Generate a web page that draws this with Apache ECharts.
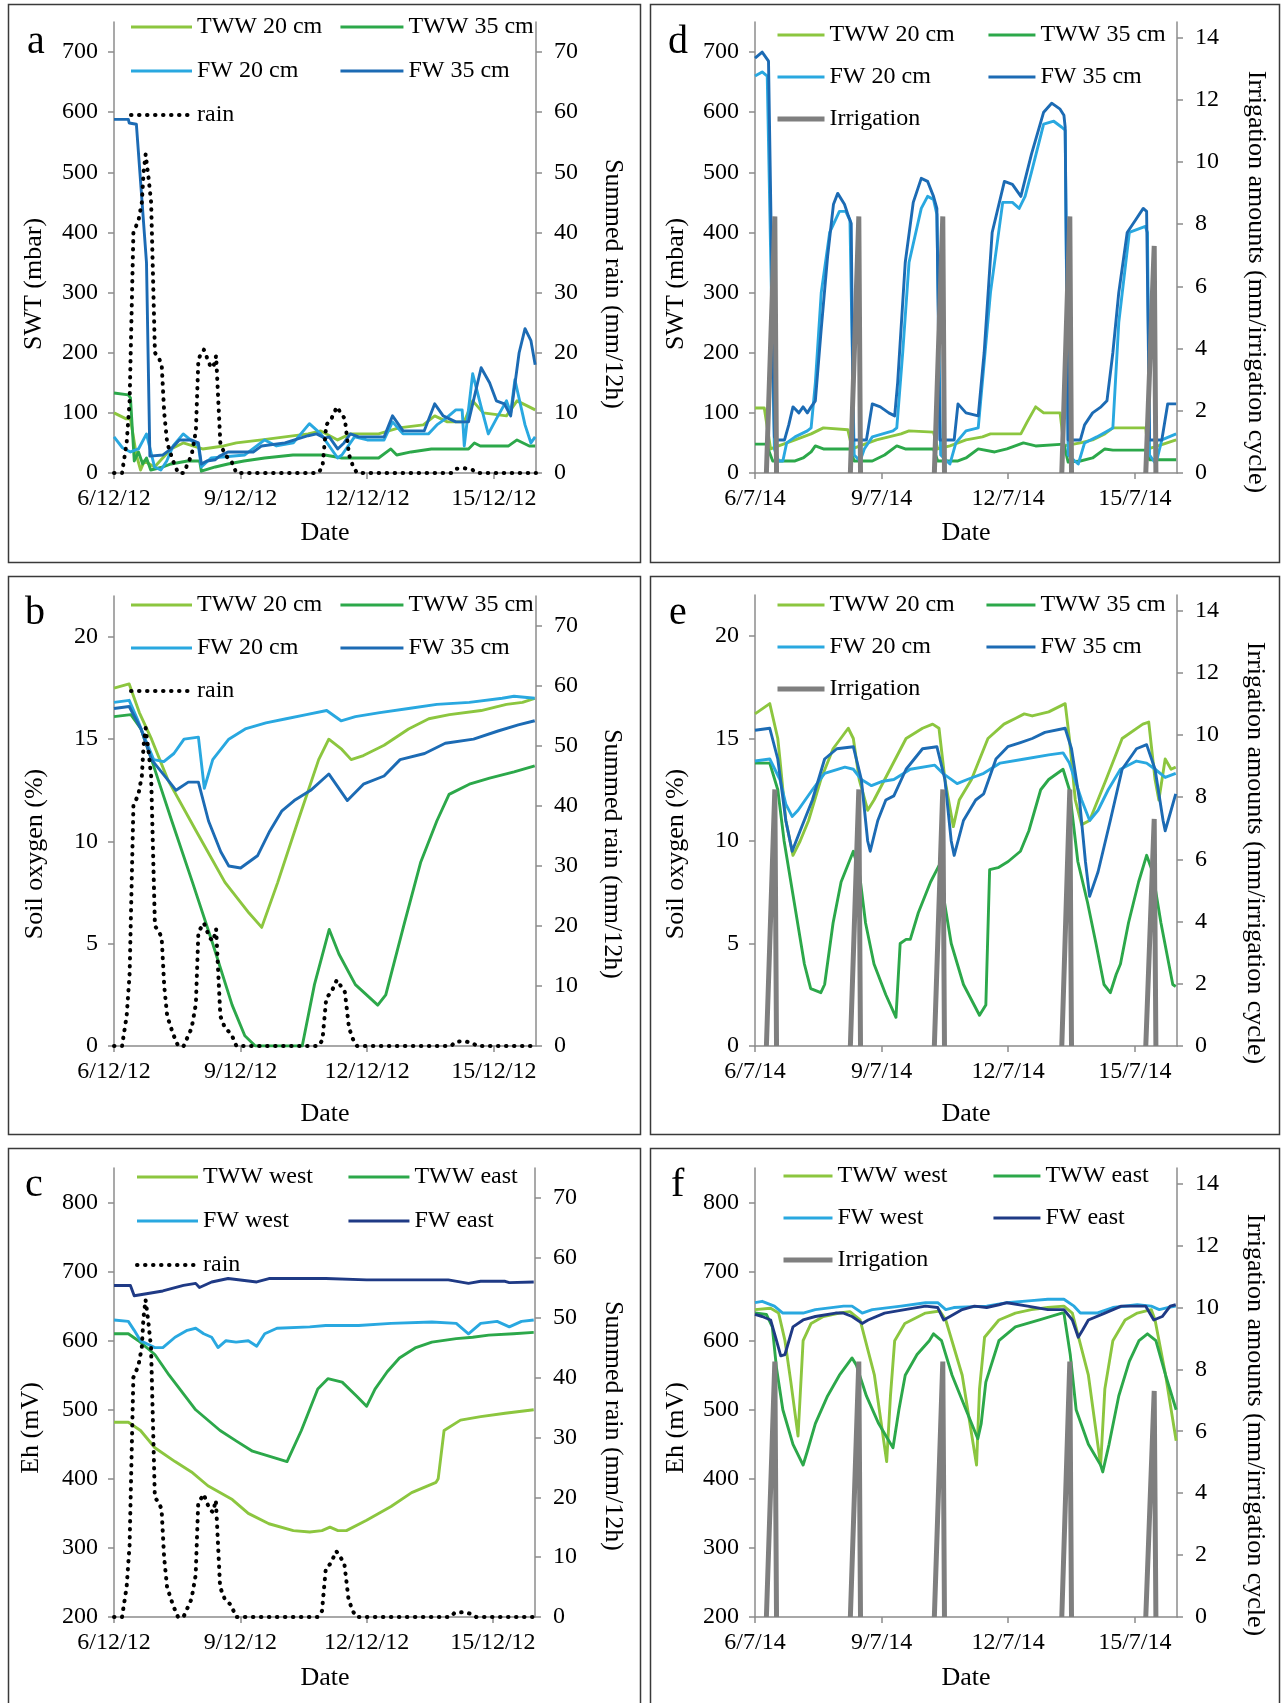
<!DOCTYPE html>
<html><head><meta charset="utf-8">
<script src="https://cdn.jsdelivr.net/npm/echarts@6/dist/echarts.min.js"></script>
<style>html,body{margin:0;padding:0;background:#fff}#c{width:1281px;height:1703px}</style>
</head><body><div id="c"></div>
<script>
// ---------- DATA (x = days since start; 0 = 6/12/12 or 6/7/14) ----------
const xTicks = [0, 3, 6, 9];
const decLabels = ['6/12/12', '9/12/12', '12/12/12', '15/12/12'];
const julLabels = ['6/7/14', '9/7/14', '12/7/14', '15/7/14'];

const rainDec = [[0,0],[0.19,0],[0.3,5],[0.37,12],[0.46,40],[0.58,42],[0.66,45],[0.7,50],[0.75,53],[0.82,49],[0.88,45],[0.97,20],[1.07,19],[1.13,18],[1.19,10],[1.26,5],[1.4,2],[1.52,0],[1.65,0],[1.84,3],[1.94,7],[2.0,19],[2.13,20.5],[2.27,18],[2.35,17.5],[2.42,19.5],[2.52,5],[2.63,3],[2.78,2],[2.9,0],[4.84,0],[4.94,1],[5.03,8],[5.15,9],[5.28,11],[5.47,9],[5.57,3],[5.67,1],[5.76,0],[7.99,0],[8.09,0.7],[8.3,0.8],[8.5,0.5],[8.6,0],[10,0]];
const irrigJul = [[0.27,0],[0.47,8.25],[0.51,0],[0.51,null],[2.26,0],[2.46,8.25],[2.5,0],[2.5,null],[4.25,0],[4.45,8.25],[4.49,0],[4.49,null],[7.27,0],[7.46,8.25],[7.5,0],[7.5,null],[9.26,0],[9.46,7.3],[9.5,0]];

// a: SWT Dec 2012
const aTWW20 = [[0,100],[0.29,90],[0.39,90],[0.53,30],[0.63,5],[0.72,20],[0.96,10],[1.35,40],[1.64,50],[2.1,40],[2.6,45],[2.9,50],[3.5,55],[4.05,60],[4.6,65],[4.9,70],[5.3,55],[5.6,65],[6.27,65],[6.75,75],[7.33,80],[7.6,95],[7.9,85],[8.3,85],[8.5,120],[8.75,100],[9.3,95],[9.55,120],[9.84,110],[9.98,105]];
const aTWW35 = [[0,133],[0.34,130],[0.39,125],[0.48,20],[0.58,35],[0.68,15],[0.77,25],[0.87,5],[1.16,10],[1.35,15],[1.74,20],[2.03,20],[2.07,3],[2.4,10],[2.7,15],[3.08,20],[3.57,25],[4.24,30],[5.0,30],[5.4,25],[6.27,25],[6.56,40],[6.7,30],[7.04,35],[7.52,40],[8.4,40],[8.54,50],[8.68,45],[9.35,45],[9.55,55],[9.84,45],[9.98,45]];
const aFW20 = [[0,60],[0.2,42],[0.39,35],[0.58,40],[0.77,65],[0.96,10],[1.11,5],[1.25,20],[1.4,45],[1.64,65],[1.9,50],[2.0,45],[2.07,10],[2.3,25],[3.1,30],[3.57,55],[3.85,45],[4.25,50],[4.63,82],[4.9,65],[5.3,25],[5.4,30],[5.7,60],[6.0,55],[6.4,55],[6.6,85],[6.85,65],[7.45,65],[7.65,80],[7.85,90],[8.1,105],[8.25,105],[8.3,45],[8.5,165],[8.7,110],[8.87,65],[9.06,90],[9.3,120],[9.4,100],[9.5,155],[9.74,80],[9.88,50],[9.98,60]];
const aFW35 = [[0,588],[0.34,588],[0.36,582],[0.53,580],[0.77,350],[0.85,28],[1.16,30],[1.35,40],[1.55,55],[1.83,55],[2.0,50],[2.07,15],[2.2,20],[2.4,22],[2.5,28],[2.7,35],[3.3,35],[3.5,45],[4.05,50],[4.6,62],[4.8,65],[5.0,58],[5.1,60],[5.3,40],[5.45,50],[5.6,65],[5.8,60],[6.4,60],[6.6,95],[6.85,70],[7.35,70],[7.6,115],[7.8,95],[8.1,85],[8.4,85],[8.7,175],[8.9,150],[9.06,120],[9.25,115],[9.4,95],[9.6,200],[9.74,240],[9.88,220],[9.98,180]];

// b: soil oxygen Dec 2012
const bTWW20 = [[0,17.5],[0.36,17.7],[0.6,16.3],[0.89,15],[1.28,13],[1.95,10.5],[2.63,8],[3.2,6.5],[3.5,5.8],[3.88,8],[4.36,11],[4.85,14],[5.09,15],[5.4,14.5],[5.62,14],[5.91,14.2],[6.4,14.7],[6.98,15.5],[7.46,16],[7.95,16.2],[8.7,16.4],[9.3,16.7],[9.68,16.8],[9.97,17]];
const bTWW35 = [[0,16.1],[0.4,16.2],[0.64,15.5],[0.89,14],[1.37,11],[1.86,8],[2.34,5],[2.8,2],[3.1,0.5],[3.35,0],[4.46,0],[4.75,3],[5.1,5.7],[5.33,4.5],[5.72,3],[6.25,2],[6.44,2.5],[6.88,6],[7.27,9],[7.65,11],[7.94,12.3],[8.42,12.8],[8.9,13.1],[9.48,13.4],[9.97,13.7]];
const bFW20 = [[0,16.8],[0.36,16.9],[0.55,16],[0.74,15],[0.94,14],[1.18,13.9],[1.42,14.3],[1.66,15],[2.0,15.1],[2.14,12.6],[2.34,14],[2.72,15],[3.11,15.5],[3.6,15.8],[4.08,16],[4.56,16.2],[5.04,16.4],[5.38,15.9],[5.72,16.1],[6.3,16.3],[6.98,16.5],[7.65,16.7],[8.42,16.8],[9.2,17],[9.48,17.1],[9.97,17]];
const bFW35 = [[0,16.5],[0.36,16.6],[0.64,15.5],[0.89,14],[1.28,13],[1.47,12.5],[1.76,12.9],[2.0,12.9],[2.24,11],[2.53,9.5],[2.72,8.8],[3.0,8.7],[3.4,9.3],[3.69,10.5],[3.98,11.5],[4.27,12],[4.66,12.5],[5.09,13.3],[5.53,12],[5.91,12.8],[6.4,13.2],[6.78,14],[7.36,14.3],[7.85,14.8],[8.52,15],[9.1,15.4],[9.58,15.7],[9.97,15.9]];

// c: Eh Dec 2012
const cTWWwest = [[0,482],[0.34,482],[0.63,470],[0.97,445],[1.45,425],[1.84,410],[2.23,390],[2.81,370],[3.19,350],[3.68,335],[4.26,325],[4.65,323],[4.94,325],[5.13,330],[5.32,325],[5.52,325],[6.0,340],[6.58,360],[7.07,380],[7.65,395],[7.7,400],[7.84,470],[8.23,485],[8.71,490],[9.29,495],[9.97,500]];
const cTWWeast = [[0,610],[0.34,610],[0.58,600],[0.68,595],[0.97,580],[1.31,550],[1.94,500],[2.52,470],[2.9,455],[3.29,440],[4.11,425],[4.45,470],[4.84,530],[5.08,545],[5.42,540],[5.76,520],[6.0,505],[6.2,530],[6.49,555],[6.78,575],[7.17,590],[7.55,598],[8.13,603],[8.52,605],[8.9,608],[9.49,610],[9.97,612]];
const cFWwest = [[0,630],[0.34,628],[0.48,615],[0.63,600],[0.97,590],[1.16,590],[1.45,605],[1.74,615],[1.94,618],[2.13,610],[2.32,605],[2.47,590],[2.66,600],[2.9,598],[3.19,600],[3.39,592],[3.58,610],[3.87,618],[4.65,620],[5.03,622],[5.81,622],[6.58,625],[7.55,627],[8.13,625],[8.42,610],[8.71,625],[9.1,628],[9.39,620],[9.68,628],[9.97,630]];
const cFWeast = [[0,680],[0.39,680],[0.48,665],[0.77,668],[1.16,672],[1.65,680],[1.94,683],[2.03,677],[2.32,685],[2.71,690],[3.39,685],[3.68,690],[5.03,690],[6.0,688],[7.94,688],[8.42,683],[8.71,686],[9.29,686],[9.39,684],[9.97,685]];

// d: SWT Jul 2014
const dTWW20 = [[0,108],[0.22,108],[0.37,40],[0.56,45],[0.95,55],[1.33,65],[1.62,75],[2.2,72],[2.3,40],[2.49,45],[2.88,55],[3.46,65],[3.65,70],[4.23,68],[4.33,40],[4.62,45],[5.0,55],[5.39,60],[5.58,65],[6.3,65],[6.45,85],[6.65,110],[6.84,100],[7.23,100],[7.32,45],[7.71,50],[8.0,55],[8.29,65],[8.48,75],[9.26,75],[9.31,40],[9.55,45],[9.98,55]];
const dTWW35 = [[0,48],[0.27,48],[0.42,20],[0.95,20],[1.14,25],[1.33,35],[1.43,45],[1.62,40],[2.25,40],[2.35,20],[2.78,20],[3.07,30],[3.36,45],[3.56,40],[4.23,40],[4.33,20],[4.81,20],[5.0,25],[5.29,40],[5.68,35],[5.97,40],[6.36,50],[6.65,45],[7.32,48],[7.42,18],[7.71,20],[8.0,25],[8.29,40],[8.48,38],[9.26,38],[9.35,22],[9.98,22]];
const dFW20 = [[0,660],[0.17,667],[0.29,660],[0.46,40],[0.56,20],[0.66,20],[0.75,50],[0.95,60],[1.24,70],[1.33,75],[1.43,150],[1.57,300],[1.77,400],[2.0,435],[2.15,435],[2.25,420],[2.35,30],[2.49,20],[2.59,40],[2.78,60],[3.27,70],[3.36,75],[3.5,200],[3.65,350],[3.94,440],[4.09,460],[4.23,455],[4.31,430],[4.4,30],[4.62,15],[4.76,50],[5.0,70],[5.29,75],[5.58,300],[5.87,450],[6.1,450],[6.26,440],[6.4,460],[6.55,500],[6.84,580],[7.08,585],[7.27,575],[7.35,570],[7.42,30],[7.66,15],[7.81,50],[8.1,60],[8.48,75],[8.62,250],[8.87,400],[9.25,410],[9.3,400],[9.35,30],[9.5,15],[9.64,55],[9.98,65]];
const dFW35 = [[0,690],[0.17,700],[0.27,690],[0.32,685],[0.46,60],[0.51,55],[0.7,55],[0.8,80],[0.9,110],[1.04,100],[1.14,110],[1.24,100],[1.33,110],[1.43,120],[1.57,240],[1.72,360],[1.86,447],[1.96,465],[2.12,447],[2.21,428],[2.28,415],[2.33,55],[2.64,55],[2.78,115],[2.97,110],[3.17,100],[3.31,95],[3.38,150],[3.56,350],[3.75,450],[3.94,490],[4.09,485],[4.23,460],[4.31,440],[4.38,55],[4.72,55],[4.81,115],[5.0,100],[5.29,95],[5.43,200],[5.62,400],[5.91,485],[6.1,480],[6.3,460],[6.55,530],[6.84,600],[7.03,615],[7.23,605],[7.32,595],[7.35,575],[7.42,55],[7.71,55],[7.81,80],[8.0,100],[8.2,110],[8.34,120],[8.48,200],[8.62,300],[8.82,400],[9.01,420],[9.2,440],[9.28,435],[9.35,55],[9.64,55],[9.78,115],[9.98,115]];

// e: soil oxygen Jul 2014
const eTWW20 = [[0,16.2],[0.35,16.7],[0.54,15],[0.59,14],[0.73,11],[0.9,9.3],[1.07,10],[1.27,11],[1.56,13],[1.85,14.5],[2.21,15.5],[2.33,15],[2.47,13],[2.67,11.5],[2.82,12],[3.2,13.5],[3.58,15],[3.97,15.5],[4.21,15.7],[4.36,15.5],[4.5,13],[4.7,10.7],[4.84,12],[5.13,13],[5.52,15],[5.9,15.7],[6.19,16],[6.38,16.2],[6.57,16.1],[6.96,16.3],[7.35,16.7],[7.45,15],[7.59,12],[7.74,10.8],[7.93,11],[8.32,13],[8.7,15],[9.19,15.7],[9.33,15.8],[9.48,13],[9.57,12],[9.72,14],[9.86,13.5],[9.97,13.6]];
const eTWW35 = [[0,13.8],[0.35,13.8],[0.54,12.5],[0.69,10],[0.93,7],[1.17,4],[1.32,2.8],[1.56,2.6],[1.65,3],[1.85,6],[2.04,8],[2.33,9.5],[2.47,8.5],[2.62,6],[2.82,4],[3.1,2.5],[3.34,1.4],[3.44,5],[3.58,5.2],[3.68,5.2],[3.87,6.5],[4.16,8],[4.36,8.8],[4.45,7.5],[4.65,5],[4.94,3],[5.32,1.5],[5.47,2],[5.56,8.6],[5.76,8.7],[6.0,9],[6.29,9.5],[6.49,10.5],[6.77,12.5],[6.96,13],[7.3,13.5],[7.45,12.5],[7.65,9],[7.88,7],[8.08,5],[8.27,3],[8.42,2.6],[8.56,3.5],[8.66,4],[8.85,6],[9.09,8],[9.28,9.3],[9.42,8.5],[9.62,6],[9.9,3],[9.97,2.9]];
const eFW20 = [[0,13.9],[0.35,14],[0.59,13],[0.73,11.8],[0.88,11.2],[1.02,11.5],[1.36,12.5],[1.65,13.3],[2.13,13.6],[2.33,13.5],[2.52,13],[2.76,12.7],[3.0,12.9],[3.29,13],[3.68,13.5],[4.26,13.7],[4.45,13.3],[4.79,12.8],[5.03,13],[5.42,13.3],[5.81,13.8],[6.39,14],[6.96,14.2],[7.3,14.3],[7.45,13.8],[7.74,12],[7.93,11],[8.13,11.5],[8.37,12.5],[8.66,13.5],[9.04,13.9],[9.28,13.8],[9.48,13.5],[9.72,13.1],[9.97,13.3]];
const eFW35 = [[0,15.4],[0.35,15.5],[0.54,14],[0.73,11],[0.88,9.5],[1.07,10.5],[1.36,12],[1.65,14],[1.94,14.5],[2.33,14.6],[2.52,13],[2.67,10],[2.73,9.5],[2.91,11],[3.1,12],[3.29,12.2],[3.58,13.5],[3.97,14.5],[4.31,14.6],[4.5,13],[4.65,10],[4.72,9.3],[4.94,11],[5.23,12],[5.42,12.3],[5.71,14],[5.99,14.6],[6.29,14.8],[6.57,15],[6.87,15.3],[7.35,15.5],[7.5,14.5],[7.69,12],[7.83,9],[7.93,7.3],[8.13,8.5],[8.42,11],[8.7,13.5],[9.04,14.5],[9.28,14.7],[9.48,13.5],[9.67,11],[9.72,10.5],[9.86,11.5],[9.97,12.3]];

// f: Eh Jul 2014
const fTWWwest = [[0,645],[0.37,647],[0.56,640],[0.71,600],[0.85,540],[1.02,462],[1.14,600],[1.33,625],[1.62,635],[2.0,640],[2.25,642],[2.49,630],[2.83,550],[3.12,425],[3.21,520],[3.31,600],[3.55,625],[4.04,640],[4.38,643],[4.52,630],[4.91,550],[5.25,420],[5.32,530],[5.44,605],[5.78,630],[6.17,640],[6.55,645],[6.94,648],[7.32,650],[7.52,640],[7.9,550],[8.19,420],[8.29,530],[8.48,600],[8.77,630],[9.06,640],[9.39,645],[9.48,630],[9.73,550],[9.98,455]];
const fTWWeast = [[0,640],[0.27,638],[0.41,620],[0.51,560],[0.66,500],[0.9,450],[1.14,420],[1.24,440],[1.43,480],[1.72,520],[2.0,550],[2.3,575],[2.4,565],[2.64,520],[2.93,480],[3.22,450],[3.27,445],[3.41,500],[3.56,550],[3.84,580],[4.13,600],[4.23,610],[4.42,600],[4.67,550],[5.0,500],[5.28,458],[5.36,480],[5.47,540],[5.78,600],[6.17,620],[6.74,630],[7.27,640],[7.32,640],[7.47,580],[7.61,500],[7.9,450],[8.19,420],[8.24,410],[8.39,450],[8.62,520],[8.87,570],[9.1,600],[9.3,610],[9.5,600],[9.73,550],[9.98,500]];
const fFWwest = [[0,655],[0.17,657],[0.46,650],[0.66,640],[1.14,640],[1.43,645],[2.1,650],[2.3,650],[2.54,640],[2.78,645],[3.46,650],[4.04,655],[4.33,655],[4.52,645],[4.71,648],[5.49,650],[5.97,655],[6.55,658],[6.94,660],[7.32,660],[7.56,650],[7.71,640],[8.1,640],[8.48,648],[9.06,652],[9.39,650],[9.58,645],[9.78,648],[9.97,650]];
const fFWeast = [[0,638],[0.17,635],[0.37,630],[0.51,600],[0.61,578],[0.71,580],[0.9,620],[1.14,630],[1.43,635],[1.91,640],[2.1,640],[2.3,635],[2.54,625],[2.68,630],[3.07,640],[3.55,645],[4.04,650],[4.33,648],[4.47,630],[4.62,635],[4.91,645],[5.2,650],[5.49,648],[5.78,652],[5.97,655],[6.46,650],[6.94,645],[7.32,645],[7.52,630],[7.66,605],[7.76,615],[7.9,630],[8.29,640],[8.68,650],[9.26,650],[9.45,630],[9.65,635],[9.84,650],[9.97,652]];

// ---------- STYLE ----------
const FONT = 'Liberation Serif';
const C = { tww20:'#8cc63f', tww35:'#2ca84a', fw20:'#29a8e0', fw35:'#1c6bb4', fwEast:'#1f3a85', irr:'#7f7f7f', rain:'#000' };
const AX = '#8c8c8c';

const grid = [], xAxis = [], yAxis = [], series = [], legend = [], graphic = [];

function mkX(i, labels) {
  return { gridIndex:i, type:'value', min:0, max:10, interval:3,
    axisLine:{show:true, onZero:false, lineStyle:{color:AX, width:1.5}},
    axisTick:{show:true, length:6, customValues:xTicks, lineStyle:{color:AX, width:1.5}},
    axisLabel:{customValues:xTicks, margin:14, fontFamily:FONT, fontSize:24, color:'#000',
      formatter:(v)=>{const k=xTicks.indexOf(v); return k>=0?labels[k]:'';}},
    splitLine:{show:false} };
}
function mkY(i, pos, min, max, interval, ticks) {
  return { gridIndex:i, type:'value', position:pos, min, max, interval,
    axisLine:{show:true, lineStyle:{color:AX, width:1.5}},
    axisTick:{show:true, length:6, customValues:ticks, lineStyle:{color:AX, width:1.5}},
    axisLabel:{customValues:ticks, margin: pos==='left'?16:18, fontFamily:FONT, fontSize:24, color:'#000',
      formatter:(v)=>ticks.indexOf(v)>=0?String(v):''},
    splitLine:{show:false} };
}
function line(i, name, data, color, right, extra) {
  const s = { name, type:'line', xAxisIndex:i, yAxisIndex: right? 2*i+1 : 2*i, data,
    symbol:'none', showSymbol:false, smooth:false, connectNulls:false, silent:true,
    lineStyle:{color, width:2.9, join:'round'}, itemStyle:{color} };
  if (extra) Object.assign(s.lineStyle, extra);
  series.push(s);
}
function legendCol(left, top, gap, w, names) {
  legend.push({ orient:'vertical', left, top, padding:0, itemGap:gap, itemWidth:w, itemHeight:14,
    data:names, selectedMode:false,
    textStyle:{fontFamily:FONT, fontSize:24, color:'#000', lineHeight:24},
    itemStyle:{opacity:0},
    lineStyle:{width:'inherit'} });
}
function txt(x, y, text, size, rot) {
  graphic.push({ type:'text', x, y, rotation: rot||0, silent:true,
    style:{ text, fill:'#000', fontFamily:FONT, fontSize:size, align:'center', verticalAlign:'middle' } });
}
function box(x, y, w, h) {
  graphic.push({ type:'rect', silent:true, shape:{x, y, width:w, height:h},
    style:{ fill:'none', stroke:'#3a3a3a', lineWidth:1.5 } });
}

const decTicksSWT = [0,100,200,300,400,500,600,700];
const o2Ticks = [0,5,10,15,20];
const ehTicks = [200,300,400,500,600,700,800];
const rainTicks = [0,10,20,30,40,50,60,70];
const irrTicks = [0,2,4,6,8,10,12,14];
const R = Math.PI/2;
const TS = 26;

// panel a
grid.push({left:114, top:22, width:422, height:451});
xAxis.push(mkX(0, decLabels));
yAxis.push(mkY(0,'left',0,750,100,decTicksSWT), mkY(0,'right',0,75,10,rainTicks));
line(0,'TWW 20 cm',aTWW20,C.tww20); line(0,'TWW 35 cm',aTWW35,C.tww35);
line(0,'FW 20 cm',aFW20,C.fw20); line(0,'FW 35 cm',aFW35,C.fw35);
line(0,'rain',rainDec,C.rain,true,{width:4, type:[0.5,7.5], cap:'round'});
legendCol(129, 15, 20, 61, ['TWW 20 cm','FW 20 cm','rain']);
legendCol(339, 15, 20, 63, ['TWW 35 cm','FW 35 cm']);
txt(34,284,'SWT (mbar)',TS,R); txt(613,284,'Summed rain (mm/12h)',TS,-R); txt(325,533,'Date',TS);

// panel d
grid.push({left:755, top:22, width:422, height:451});
xAxis.push(mkX(1, julLabels));
yAxis.push(mkY(1,'left',0,750,100,decTicksSWT), mkY(1,'right',0,14.5,2,irrTicks));
line(1,'TWW 20 cm',dTWW20,C.tww20); line(1,'TWW 35 cm',dTWW35,C.tww35);
line(1,'FW 20 cm',dFW20,C.fw20); line(1,'FW 35 cm',dFW35,C.fw35);
line(1,'Irrigation',irrigJul,C.irr,true,{width:5, join:'bevel'});
legendCol(775, 23, 18, 47, ['TWW 20 cm','FW 20 cm','Irrigation']);
legendCol(987, 23, 18, 47, ['TWW 35 cm','FW 35 cm']);
txt(676,284,'SWT (mbar)',TS,R); txt(1256,282,'Irrigation amounts (mm/irrigation cycle)',TS,-R); txt(966,533,'Date',TS);

// panel b
grid.push({left:114, top:596, width:422, height:450});
xAxis.push(mkX(2, decLabels));
yAxis.push(mkY(2,'left',0,22,5,o2Ticks), mkY(2,'right',0,75,10,rainTicks));
line(2,'TWW 20 cm',bTWW20,C.tww20); line(2,'TWW 35 cm',bTWW35,C.tww35);
line(2,'FW 20 cm',bFW20,C.fw20); line(2,'FW 35 cm',bFW35,C.fw35);
line(2,'rain',rainDec,C.rain,true,{width:4, type:[0.5,7.5], cap:'round'});
txt(35,854,'Soil oxygen (%)',TS,R); txt(612,854,'Summed rain (mm/12h)',TS,-R); txt(325,1114,'Date',TS);

// panel e
grid.push({left:755, top:595, width:422, height:451});
xAxis.push(mkX(3, julLabels));
yAxis.push(mkY(3,'left',0,22,5,o2Ticks), mkY(3,'right',0,14.5,2,irrTicks));
line(3,'TWW 20 cm',eTWW20,C.tww20); line(3,'TWW 35 cm',eTWW35,C.tww35);
line(3,'FW 20 cm',eFW20,C.fw20); line(3,'FW 35 cm',eFW35,C.fw35);
line(3,'Irrigation',irrigJul,C.irr,true,{width:5, join:'bevel'});
txt(676,854,'Soil oxygen (%)',TS,R); txt(1255,853,'Irrigation amounts (mm/irrigation cycle)',TS,-R); txt(966,1114,'Date',TS);

// panel c
grid.push({left:114, top:1168, width:421, height:449});
xAxis.push(mkX(4, decLabels));
yAxis.push(mkY(4,'left',200,850,100,ehTicks), mkY(4,'right',0,75,10,rainTicks));
line(4,'TWW west',cTWWwest,C.tww20); line(4,'TWW east',cTWWeast,C.tww35);
line(4,'FW west',cFWwest,C.fw20); line(4,'FW east',cFWeast,C.fwEast);
line(4,'rain',rainDec,C.rain,true,{width:4, type:[0.5,7.5], cap:'round'});
legendCol(135, 1165, 20, 61, ['TWW west','FW west','rain']);
legendCol(347, 1165, 20, 61, ['TWW east','FW east']);
txt(31,1428,'Eh (mV)',TS,R); txt(613,1426,'Summed rain (mm/12h)',TS,-R); txt(325,1678,'Date',TS);

// panel f
grid.push({left:755, top:1168, width:422, height:449});
xAxis.push(mkX(5, julLabels));
yAxis.push(mkY(5,'left',200,850,100,ehTicks), mkY(5,'right',0,14.5,2,irrTicks));
line(5,'TWW west',fTWWwest,C.tww20); line(5,'TWW east',fTWWeast,C.tww35);
line(5,'FW west',fFWwest,C.fw20); line(5,'FW east',fFWeast,C.fwEast);
line(5,'Irrigation',irrigJul,C.irr,true,{width:5, join:'bevel'});
legendCol(781, 1164, 18, 49, ['TWW west','FW west','Irrigation']);
legendCol(992, 1164, 18, 47, ['TWW east','FW east']);
txt(676,1428,'Eh (mV)',TS,R); txt(1255,1425,'Irrigation amounts (mm/irrigation cycle)',TS,-R); txt(966,1678,'Date',TS);

// legends for b and e
legendCol(129, 593, 19, 61, ['TWW 20 cm','FW 20 cm','rain']);
legendCol(339, 593, 19, 63, ['TWW 35 cm','FW 35 cm']);
legendCol(775, 593, 18, 47, ['TWW 20 cm','FW 20 cm','Irrigation']);
legendCol(985, 593, 18, 49, ['TWW 35 cm','FW 35 cm']);

// panel frames and letters
box(8.5,4.5,632,558); box(650.5,4.5,629,558);
box(8.5,576.5,632,558); box(650.5,576.5,629,558);
box(8.5,1148.5,632,560); box(650.5,1148.5,629,560);
[['a',27,42],['d',668,42],['b',25,613],['e',669,613],['c',25,1185],['f',671,1185]].forEach(([t,x,y])=>{
  graphic.push({type:'text', x, y, silent:true, style:{text:t, fill:'#000', fontFamily:FONT, fontSize:40, align:'left', verticalAlign:'middle'}});
});

const chart = echarts.init(document.getElementById('c'), null, {renderer:'canvas'});
chart.setOption({ animation:false, backgroundColor:'#fff', grid, xAxis, yAxis, series, legend, graphic });
</script></body></html>
